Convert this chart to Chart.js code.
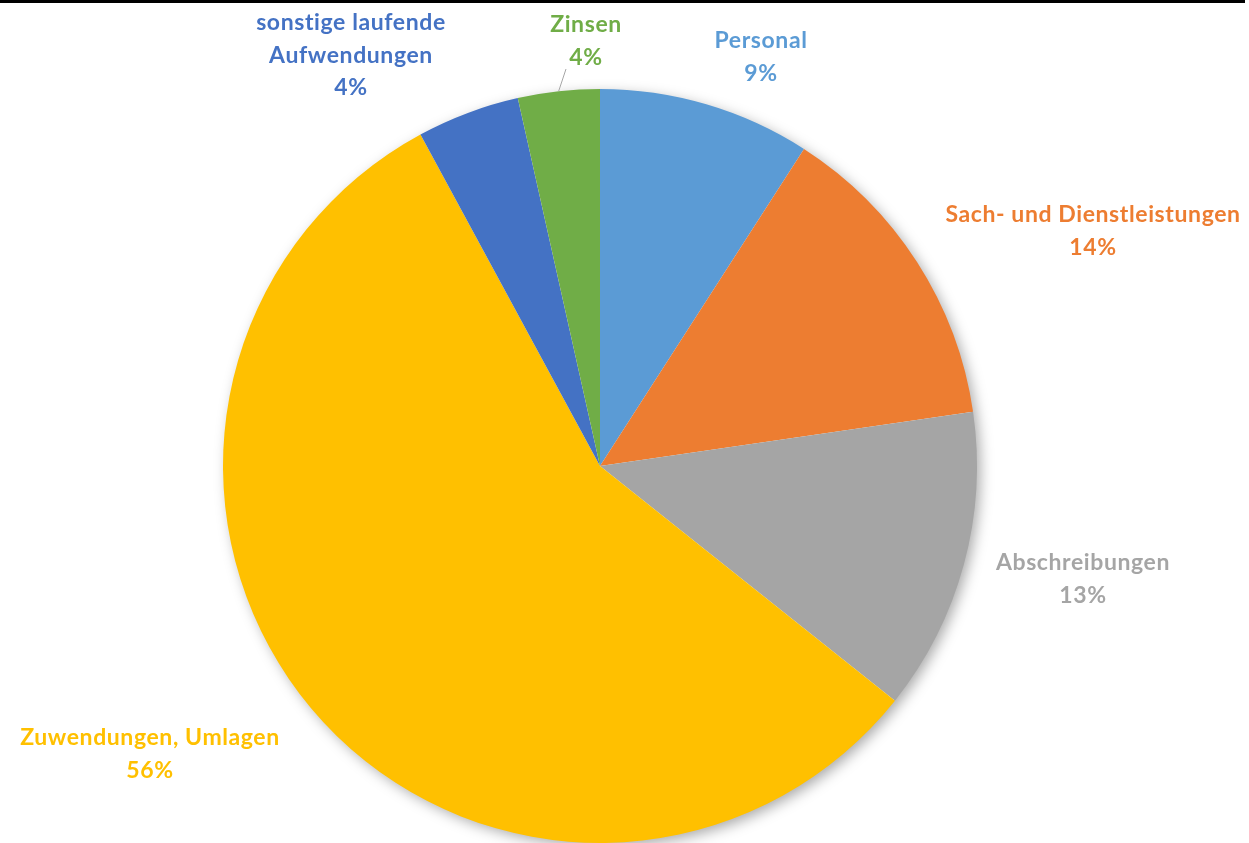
<!DOCTYPE html>
<html>
<head>
<meta charset="utf-8">
<script src="https://cdn.jsdelivr.net/npm/chart.js@4"></script>
<style>
    html, body { margin: 0; padding: 0; background: #fff; }
    #wrap { position: relative; width: 1249px; height: 843px; overflow: hidden; }
    #topbar { position: absolute; left: 0; top: 0; width: 1245px; height: 3px; background: #000; z-index: 2; }
    canvas { position: absolute; left: 0; top: 0; }
</style>
</head>
<body>
<div id="wrap">
    <div id="topbar"></div>
    <canvas id="pie" width="1249" height="843"></canvas>
</div>
<script>
// slice data (clockwise from 12 o'clock)
const categories = ['Personal', 'Sach- und Dienstleistungen', 'Abschreibungen', 'Zuwendungen, Umlagen', 'sonstige laufende Aufwendungen', 'Zinsen'];
const shares = [9.1, 13.6, 13.0, 56.4, 4.4, 3.5];
const colors = ['#5B9BD5', '#ED7D31', '#A5A5A5', '#FFC000', '#4472C4', '#70AD47'];
// label text lines as printed in the chart
const labelLines = [
    ['Personal'],
    ['Sach- und Dienstleistungen'],
    ['Abschreibungen'],
    ['Zuwendungen, Umlagen'],
    ['sonstige laufende', 'Aufwendungen'],
    ['Zinsen']
];

// where the label blocks sit (center x, first line y)
const labelPos = [
    { x: 761, y: 41 },
    { x: 1093, y: 215 },
    { x: 1083, y: 563 },
    { x: 150, y: 738 },
    { x: 351, y: 23 },
    { x: 586, y: 25 }
];

const shadowPlugin = {
    id: 'shadow',
    beforeDatasetsDraw(chart) {
        let arc = chart.getDatasetMeta(0).data[0];
        if (!arc) return;
        let ctx = chart.ctx;
        ctx.save();
        ctx.shadowColor = 'rgba(0,0,0,0.35)';
        ctx.shadowBlur = 14;
        ctx.shadowOffsetX = 4;
        ctx.shadowOffsetY = 4;
        ctx.fillStyle = '#ffffff';
        ctx.beginPath();
        ctx.arc(arc.x, arc.y, arc.outerRadius - 1, 0, Math.PI * 2);
        ctx.fill();
        ctx.restore();
    }
};

const labelPlugin = {
    id: 'sliceLabels',
    afterDraw(chart) {
        let ctx = chart.ctx;
        let meta = chart.getDatasetMeta(0);
        ctx.save();
        ctx.font = 'bold 23px Lato, "Open Sans", sans-serif';
        ctx.letterSpacing = '0.6px';
        ctx.textAlign = 'center';
        ctx.textBaseline = 'middle';
        for (let i = 0; i < categories.length; i++) {
            let lines = labelLines[i].concat([Math.round(shares[i]) + '%']);
            let p = labelPos[i];
            ctx.fillStyle = colors[i];
            lines.forEach((t, j) => ctx.fillText(t, p.x, p.y + j * 32.5));
        }
        // leader line for Zinsen
        let arc = meta.data[5];
        let mid = (arc.startAngle + arc.endAngle) / 2;
        let ex = arc.x + Math.cos(mid) * arc.outerRadius;
        let ey = arc.y + Math.sin(mid) * arc.outerRadius;
        ctx.strokeStyle = '#A6A6A6';
        ctx.lineWidth = 1;
        ctx.beginPath();
        ctx.moveTo(ex, ey);
        ctx.lineTo(labelPos[5].x - 20, labelPos[5].y + 44);
        ctx.stroke();
        ctx.restore();
    }
};

new Chart(document.getElementById('pie'), {
    type: 'pie',
    data: {
        labels: categories,
        datasets: [{
            data: shares,
            backgroundColor: colors,
            borderWidth: 0
        }]
    },
    options: {
        responsive: false,
        animation: false,
        layout: { padding: { left: 223, right: 272, top: 89, bottom: 0 } },
        plugins: {
            legend: { display: false },
            tooltip: { enabled: false }
        }
    },
    plugins: [shadowPlugin, labelPlugin]
});
</script>
</body>
</html>
